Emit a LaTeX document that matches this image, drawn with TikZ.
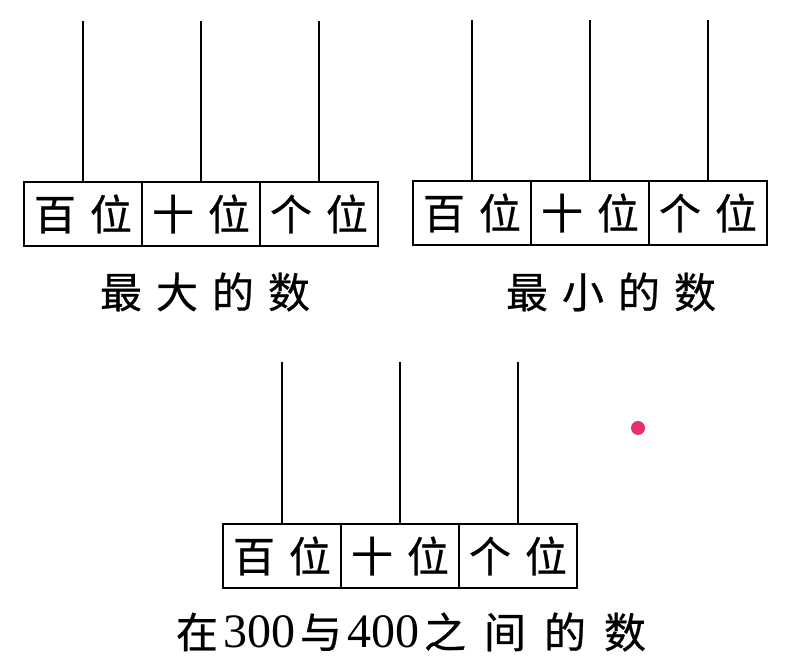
\documentclass[tikz,border=0pt]{standalone}
\usepackage{fontspec}
\usetikzlibrary{positioning}
\newfontfamily\kaifont[FakeBold=0.6]{Noto Sans CJK SC}
\newfontfamily\digitfont{Liberation Serif}
\newcommand{\cgap}{\hspace{14pt}}
\newcommand{\wgap}{\hspace{18pt}}
\newcommand{\dgap}{\hspace{5pt}}
\definecolor{dotred}{RGB}{232,48,104}

\begin{document}
\begin{tikzpicture}[
    x=1pt, y=1pt,
    cell/.style={draw, line width=1.2pt, minimum width=118pt, minimum height=64pt,
      inner sep=0pt, outer sep=0pt, font=\kaifont\fontsize{42pt}{42pt}\selectfont},
    rod/.style={line width=1.1pt},
    caption/.style={inner sep=0pt, font=\kaifont\fontsize{42pt}{42pt}\selectfont}
  ]
  \useasboundingbox (0,0) rectangle (796,669);

  % largest number
  \node[cell] (maxH) at (83,455) {百\cgap 位};
  \node[cell, right=0pt of maxH] (maxT) {十\cgap 位};
  \node[cell, right=0pt of maxT] (maxO) {个\cgap 位};
  \coordinate (maxTop) at (0,648);
  \draw[rod] (maxH.north) -- (maxH.north |- maxTop);
  \draw[rod] (maxT.north) -- (maxT.north |- maxTop);
  \draw[rod] (maxO.north) -- (maxO.north |- maxTop);
  \node[caption] (maxCap) at (205,377) {最\cgap 大\cgap 的\cgap 数};

  % smallest number
  \node[cell] (minH) at (472,456) {百\cgap 位};
  \node[cell, right=0pt of minH] (minT) {十\cgap 位};
  \node[cell, right=0pt of minT] (minO) {个\cgap 位};
  \coordinate (minTop) at (0,649);
  \draw[rod] (minH.north) -- (minH.north |- minTop);
  \draw[rod] (minT.north) -- (minT.north |- minTop);
  \draw[rod] (minO.north) -- (minO.north |- minTop);
  \node[caption] (minCap) at (611,377) {最\cgap 小\cgap 的\cgap 数};

  % between 300 and 400
  \node[cell] (midH) at (282,113) {百\cgap 位};
  \node[cell, right=0pt of midH] (midT) {十\cgap 位};
  \node[cell, right=0pt of midT] (midO) {个\cgap 位};
  \coordinate (midTop) at (0,307);
  \draw[rod] (midH.north) -- (midH.north |- midTop);
  \draw[rod] (midT.north) -- (midT.north |- midTop);
  \draw[rod] (midO.north) -- (midO.north |- midTop);
  \node[caption] (midCap) at (411,37) {在\dgap{\digitfont\fontsize{48pt}{48pt}\selectfont 300}\dgap 与\dgap{\digitfont\fontsize{48pt}{48pt}\selectfont 400}\dgap 之\wgap 间\wgap 的\wgap 数};

  \fill[dotred] (638,241) circle (7);
\end{tikzpicture}
\end{document}
